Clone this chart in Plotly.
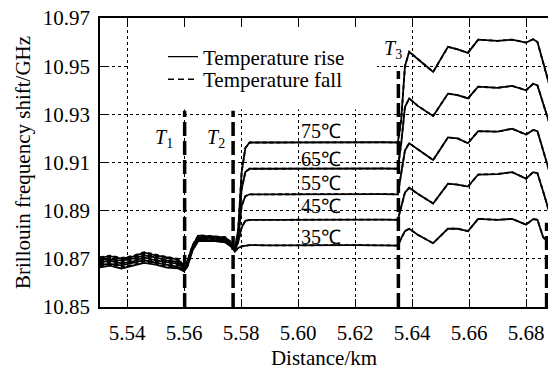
import plotly.graph_objects as go

# ---------------- data ----------------
x_knots = [5.5305, 5.534, 5.538, 5.542, 5.546, 5.550, 5.554, 5.558, 5.5600, 5.5612,
           5.5630, 5.5650, 5.5700, 5.5745, 5.5768, 5.5778,
           5.5790, 5.5802, 5.5815, 5.5830, 5.5900, 5.6000, 5.6100, 5.6200, 5.6300,
           5.6350, 5.6362, 5.6375, 5.6390, 5.6420, 5.6474, 5.6526, 5.6560, 5.6596,
           5.6632, 5.6700, 5.6751, 5.6800, 5.6825, 5.6840, 5.6860, 5.6880]

# common section (before T2), one list per measured curve
pre_rise_35 = [10.8665, 10.8672, 10.8660, 10.8671, 10.8683, 10.8676, 10.8664, 10.8660, 10.8648, 10.8668, 10.8736, 10.8774, 10.8775, 10.8768, 10.8748, 10.8730]
pre_rise_45 = [10.8676, 10.8679, 10.8673, 10.8682, 10.8694, 10.8684, 10.8677, 10.8667, 10.8652, 10.8674, 10.8741, 10.8780, 10.8777, 10.8774, 10.8751, 10.8733]
pre_rise_55 = [10.8685, 10.8692, 10.8681, 10.8689, 10.8706, 10.8694, 10.8686, 10.8679, 10.8658, 10.8680, 10.8745, 10.8786, 10.8784, 10.8778, 10.8755, 10.8735]
pre_rise_65 = [10.8696, 10.8699, 10.8693, 10.8701, 10.8714, 10.8706, 10.8694, 10.8687, 10.8663, 10.8685, 10.8750, 10.8790, 10.8787, 10.8784, 10.8759, 10.8738]
pre_rise_75 = [10.8704, 10.8711, 10.8701, 10.8709, 10.8726, 10.8714, 10.8706, 10.8697, 10.8668, 10.8691, 10.8755, 10.8796, 10.8793, 10.8788, 10.8764, 10.8740]
pre_fall_35 = [10.8670, 10.8676, 10.8668, 10.8674, 10.8690, 10.8681, 10.8669, 10.8664, 10.8650, 10.8671, 10.8738, 10.8777, 10.8776, 10.8770, 10.8749, 10.8731]
pre_fall_45 = [10.8681, 10.8684, 10.8678, 10.8686, 10.8699, 10.8690, 10.8681, 10.8673, 10.8655, 10.8677, 10.8743, 10.8782, 10.8780, 10.8776, 10.8753, 10.8734]
pre_fall_55 = [10.8690, 10.8696, 10.8686, 10.8694, 10.8711, 10.8699, 10.8691, 10.8683, 10.8661, 10.8683, 10.8747, 10.8788, 10.8786, 10.8781, 10.8757, 10.8736]
pre_fall_65 = [10.8700, 10.8704, 10.8698, 10.8705, 10.8720, 10.8711, 10.8699, 10.8693, 10.8666, 10.8688, 10.8752, 10.8793, 10.8791, 10.8786, 10.8762, 10.8739]
pre_fall_75 = [10.8707, 10.8713, 10.8704, 10.8712, 10.8728, 10.8717, 10.8708, 10.8700, 10.8670, 10.8693, 10.8757, 10.8798, 10.8795, 10.8790, 10.8766, 10.8742]

# section after T2, per temperature
post_35 = [10.8745, 10.8752, 10.8755, 10.8757, 10.8756, 10.8757, 10.8755, 10.8757, 10.8756,
           10.8755, 10.8785, 10.8815, 10.8825, 10.8800, 10.8765, 10.8825, 10.8825, 10.8815,
           10.8866, 10.8862, 10.8866, 10.8842, 10.8865, 10.8862, 10.8790, 10.8765]
post_45 = [10.8770, 10.8830, 10.8858, 10.8862, 10.8862, 10.8863, 10.8861, 10.8862, 10.8863,
           10.8862, 10.8920, 10.8975, 10.8995, 10.8970, 10.8930, 10.9012, 10.9008, 10.9000,
           10.9050, 10.9052, 10.9060, 10.9033, 10.9060, 10.9055, 10.8980, 10.8900]
post_55 = [10.8790, 10.8920, 10.8960, 10.8968, 10.8968, 10.8969, 10.8967, 10.8968, 10.8969,
           10.8968, 10.9050, 10.9150, 10.9180, 10.9155, 10.9110, 10.9204, 10.9200, 10.9180,
           10.9230, 10.9228, 10.9240, 10.9216, 10.9235, 10.9230, 10.9150, 10.9070]
post_65 = [10.8805, 10.8990, 10.9060, 10.9074, 10.9074, 10.9075, 10.9073, 10.9074, 10.9075,
           10.9074, 10.9180, 10.9330, 10.9366, 10.9335, 10.9293, 10.9386, 10.9380, 10.9366,
           10.9415, 10.9410, 10.9418, 10.9400, 10.9427, 10.9420, 10.9340, 10.9270]
post_75 = [10.8820, 10.9060, 10.9160, 10.9183, 10.9183, 10.9184, 10.9182, 10.9183, 10.9184,
           10.9183, 10.9280, 10.9500, 10.9560, 10.9530, 10.9476, 10.9580, 10.9570, 10.9555,
           10.9610, 10.9605, 10.9610, 10.9598, 10.9612, 10.9600, 10.9510, 10.9430]

temp_labels = ["35℃", "45℃", "55℃", "65℃", "75℃"]
temp_label_y = [10.8789, 10.8919, 10.9013, 10.9114, 10.9232]
temp_label_x = 5.6004

marker_x = [5.5602, 5.5772, 5.6352, 5.6872]
marker_top = [10.9315, 10.9315, 10.948, 10.885]
marker_subs = ["1", "2", "3"]
marker_label_x = [5.5530, 5.5712, 5.6333]
marker_label_y = [10.920, 10.920, 10.957]

x_ticks = [5.54, 5.56, 5.58, 5.60, 5.62, 5.64, 5.66, 5.68]
y_ticks = [10.85, 10.87, 10.89, 10.91, 10.93, 10.95, 10.97]
x_range = [5.5305, 5.6877]
y_range = [10.85, 10.97]

FONT = "Liberation Serif, Times New Roman, serif"

fig = go.Figure()

rise = [(pre_rise_35, post_35), (pre_rise_45, post_45), (pre_rise_55, post_55),
        (pre_rise_65, post_65), (pre_rise_75, post_75)]
fall = [(pre_fall_35, post_35), (pre_fall_45, post_45), (pre_fall_55, post_55),
        (pre_fall_65, post_65), (pre_fall_75, post_75)]

for pre, post in rise:
    fig.add_trace(go.Scatter(x=x_knots, y=pre + post, mode="lines",
                             line=dict(color="black", width=1.8), showlegend=False,
                             hoverinfo="skip"))
for pre, post in fall:
    fig.add_trace(go.Scatter(x=x_knots, y=pre + post, mode="lines",
                             line=dict(color="black", width=1.8, dash="4px,3px"),
                             showlegend=False, hoverinfo="skip"))

# thick dashed markers
for mx, mt in zip(marker_x, marker_top):
    fig.add_trace(go.Scatter(x=[mx, mx], y=[y_range[0], mt], mode="lines",
                             line=dict(color="black", width=3.5, dash="14px,5px"),
                             showlegend=False, hoverinfo="skip"))

# legend entries (two separate legends for exact spacing)
fig.add_trace(go.Scatter(x=[None], y=[None], mode="lines", name="Temperature rise",
                         line=dict(color="black", width=1.2), legend="legend"))
fig.add_trace(go.Scatter(x=[None], y=[None], mode="lines", name="Temperature fall",
                         line=dict(color="black", width=1.5, dash="6px,4px"),
                         legend="legend2"))

annotations = []
for t, ty in zip(temp_labels, temp_label_y):
    annotations.append(dict(x=temp_label_x, y=ty, text=t, showarrow=False,
                            xanchor="left", yanchor="middle",
                            font=dict(family=FONT, size=20, color="black")))
for sub, lx, ly in zip(marker_subs, marker_label_x, marker_label_y):
    annotations.append(dict(x=lx, y=ly, text="<i>T</i><sub>" + sub + "</sub>",
                            showarrow=False, xanchor="center", yanchor="middle",
                            font=dict(family=FONT, size=20, color="black")))

legend_common = dict(xanchor="left", yanchor="middle", bgcolor="rgba(0,0,0,0)",
                     borderwidth=0, font=dict(family=FONT, size=21, color="black"),
                     itemwidth=30)

fig.update_layout(
    width=548, height=370,
    margin=dict(l=100, r=0, t=18, b=57),
    paper_bgcolor="white", plot_bgcolor="white",
    font=dict(family=FONT, size=21, color="black"),
    annotations=annotations,
    shapes=[dict(type="rect", xref="x", yref="y", x0=5.5405, x1=5.6277,
                 y0=10.932, y1=10.9655, fillcolor="white", line=dict(width=0),
                 layer="above")],
    legend=dict(x=0.1406, y=0.865, **legend_common),
    legend2=dict(x=0.1406, y=0.787, **legend_common),
)
fig.update_xaxes(range=x_range, tickvals=x_ticks, tickformat=".2f",
                 showgrid=True, gridcolor="black", gridwidth=1, griddash="dot",
                 showline=True, linecolor="black", linewidth=1.6, mirror="ticks",
                 ticks="inside", ticklen=8, tickcolor="black", tickwidth=1,
                 zeroline=False, ticklabelstandoff=6,
                 title=dict(text="Distance/km", standoff=10,
                            font=dict(family=FONT, size=21)))
fig.update_yaxes(range=y_range, tickvals=y_ticks, tickformat=".2f",
                 showgrid=True, gridcolor="black", gridwidth=1, griddash="dot",
                 showline=True, linecolor="black", linewidth=1.6,
                 ticks="inside", ticklen=8, tickcolor="black", tickwidth=1,
                 zeroline=False, ticklabelstandoff=4,
                 title=dict(text="Brillouin frequency shift/GHz", standoff=6,
                            font=dict(family=FONT, size=21)))

fig.write_html("out.html", config={"displayModeBar": False},
               post_script="document.body.style.margin='0px';")
